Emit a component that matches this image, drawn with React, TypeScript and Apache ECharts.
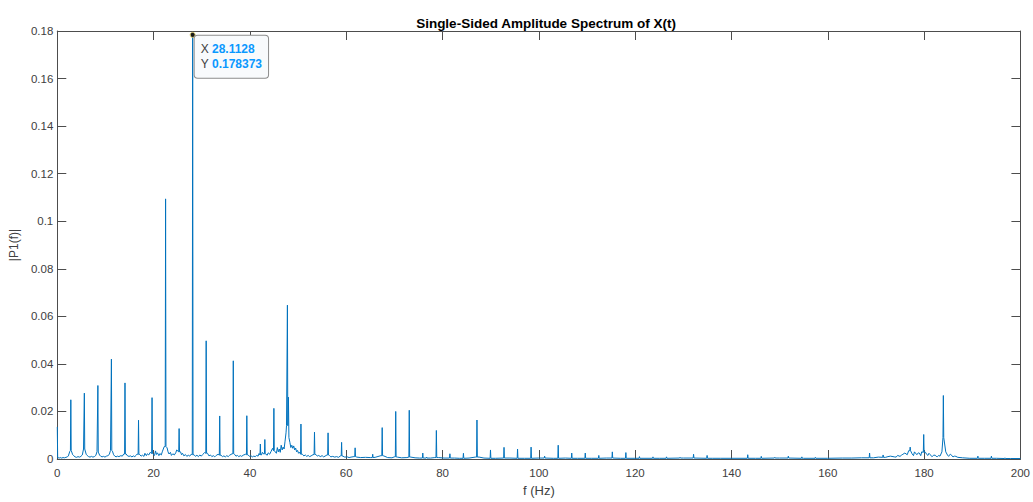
import React, { useEffect, useRef } from "react";
import * as echarts from "echarts";

const titleText = "Single-Sided Amplitude Spectrum of X(t)";
const xName = "f (Hz)";
const yName = "|P1(f)|";

// Spectral peaks (Hz, amplitude)
const peakFreqs = [
  0, 2.81, 5.62, 8.43, 11.24, 14.06, 16.87, 19.68, 22.49, 25.3, 28.1128, 30.92, 33.73, 36.55, 39.36,
  42.17, 43.1, 44.98, 47.79, 50.6, 53.41, 56.23, 59.04, 61.85, 65.5, 67.47, 70.28, 73.09, 75.9, 76.7,
  78.72, 81.53, 84.34, 87.15, 89.96, 92.77, 95.58, 98.39, 101.2, 104.02, 106.83, 109.64, 112.45,
  115.26, 118.07, 120.89, 123.7, 126.51, 129.32, 132.13, 134.94, 137.75, 143.38, 146.19, 149.0,
  151.81, 154.62, 157.43, 163.06, 168.68, 171.49, 177.11, 179.92, 184.0, 191.17, 193.98, 196.79,
];
const peakAmps = [
  0.0135, 0.0249, 0.0277, 0.0309, 0.042, 0.032, 0.0163, 0.0258, 0.1094, 0.0128, 0.178373, 0.0497, 0.0181,
  0.0413, 0.0182, 0.0063, 0.0082, 0.0213, 0.0647, 0.0147, 0.0113, 0.011, 0.007, 0.0047, 0.002, 0.0132,
  0.02, 0.0205, 0.0025, 0.0008, 0.012, 0.0022, 0.0024, 0.0164, 0.0038, 0.0049, 0.0042, 0.005, 0.0012,
  0.0058, 0.0025, 0.0025, 0.0015, 0.003, 0.0027, 0.001, 0.0009, 0.0009, 0.0007, 0.002, 0.0015, 0.0005,
  0.0018, 0.0011, 0.0007, 0.0012, 0.0009, 0.0007, 0.0003, 0.0025, 0.0017, 0.005, 0.0103, 0.0267, 0.0012,
  0.0012, 0.0005,
];

// Noise floor between the peaks, 0–15 Hz: [Hz, amplitude]
const floorLow: [number, number][] = [
  [0.15, 0.0006], [0.4, 0.0004], [0.6, 0.0006], [0.9, 0.0004], [1.2, 0.0006], [1.5, 0.0005],
  [1.8, 0.0007], [2.1, 0.0009], [2.3, 0.0013], [2.6, 0.0032], [3.0, 0.0036], [3.2, 0.0018],
  [3.4, 0.0014], [3.7, 0.0009], [4.0, 0.0007], [4.3, 0.001], [4.6, 0.0008], [4.9, 0.0011],
  [5.2, 0.0017], [5.45, 0.0042], [5.8, 0.004], [6.0, 0.002], [6.2, 0.0015], [6.5, 0.001],
  [6.8, 0.0008], [7.1, 0.0011], [7.4, 0.0008], [7.7, 0.001], [8.0, 0.0015], [8.25, 0.0031],
  [8.6, 0.0029], [8.8, 0.0016], [9.0, 0.0012], [9.3, 0.0009], [9.6, 0.0011], [9.9, 0.0008],
  [10.2, 0.0012], [10.5, 0.0014], [10.8, 0.0019], [11.05, 0.0036], [11.45, 0.0033], [11.7, 0.0018],
  [11.9, 0.0013], [12.2, 0.0009], [12.5, 0.0012], [12.8, 0.001], [13.2, 0.0014], [13.5, 0.0012],
  [13.8, 0.0021], [14.3, 0.0021], [14.6, 0.0013], [14.9, 0.0011], [15.2, 0.0013],
];

// Noise floor, 15–62 Hz
const floorMid: [number, number][] = [
  [15.5, 0.0009], [15.8, 0.0013], [16.1, 0.001], [16.4, 0.0016], [16.6, 0.0021], [17.1, 0.0019],
  [17.4, 0.0012], [17.7, 0.0016], [18.0, 0.0011], [18.2, 0.0024], [18.5, 0.0014], [18.7, 0.0022],
  [19.0, 0.0017], [19.3, 0.0028], [19.9, 0.0023], [20.2, 0.0015], [20.4, 0.0034], [20.6, 0.0019],
  [20.8, 0.0026], [21.1, 0.0014], [21.3, 0.0023], [21.6, 0.0017], [21.8, 0.003], [22.2, 0.0052],
  [22.8, 0.0047], [23.0, 0.003], [23.2, 0.0021], [23.5, 0.0028], [23.7, 0.0015], [24.0, 0.0022],
  [24.3, 0.0017], [24.6, 0.0026], [24.8, 0.0038], [25.6, 0.003], [25.8, 0.0018], [26.0, 0.0024],
  [26.3, 0.0013], [26.6, 0.0019], [26.9, 0.0011], [27.2, 0.0016], [27.5, 0.0012], [27.8, 0.002],
  [28.4, 0.0018], [28.7, 0.0011], [29.0, 0.0016], [29.3, 0.001], [29.6, 0.0017], [29.9, 0.0012],
  [30.2, 0.0019], [30.6, 0.0027], [31.2, 0.0024], [31.5, 0.0013], [31.8, 0.0017], [32.1, 0.001],
  [32.4, 0.0014], [32.7, 0.0009], [33.0, 0.0015], [33.4, 0.002], [34.0, 0.0016], [34.3, 0.001],
  [34.6, 0.0013], [34.9, 0.0009], [35.2, 0.0014], [35.5, 0.001], [35.8, 0.0016], [36.3, 0.0022],
  [36.8, 0.002], [37.1, 0.0012], [37.4, 0.0015], [37.7, 0.001], [38.0, 0.0014], [38.3, 0.0011],
  [38.6, 0.0016], [39.1, 0.002], [39.6, 0.0018], [39.9, 0.0011], [40.2, 0.0014], [40.5, 0.0009],
  [40.8, 0.0012], [41.1, 0.001], [41.4, 0.0015], [41.7, 0.0012], [41.9, 0.0023], [42.4, 0.0017],
  [42.6, 0.0028], [42.9, 0.002], [43.3, 0.0022], [43.6, 0.0016], [43.8, 0.0026], [44.1, 0.002],
  [44.4, 0.0032], [44.7, 0.0045], [45.2, 0.0035], [45.5, 0.0024], [45.7, 0.0048], [45.9, 0.003],
  [46.1, 0.0042], [46.3, 0.0028], [46.5, 0.0058], [46.7, 0.0038], [46.9, 0.005], [47.1, 0.0042],
  [47.3, 0.0075], [47.5, 0.011], [47.6, 0.014], [48.0, 0.026], [48.1, 0.009], [48.3, 0.007],
  [48.5, 0.0048], [48.7, 0.0058], [48.9, 0.0045], [49.1, 0.0055], [49.3, 0.0038], [49.5, 0.0046],
  [49.7, 0.003], [49.9, 0.0036], [50.1, 0.0024], [50.3, 0.0029], [50.9, 0.002], [51.2, 0.0013],
  [51.5, 0.0017], [51.8, 0.0011], [52.1, 0.0015], [52.4, 0.001], [52.7, 0.0013], [53.1, 0.0018],
  [53.7, 0.0019], [54.0, 0.0012], [54.3, 0.0015], [54.6, 0.001], [55.0, 0.0014], [55.3, 0.0009],
  [55.6, 0.0012], [56.0, 0.0017], [56.5, 0.0015], [56.8, 0.0009], [57.2, 0.0011], [57.6, 0.0008],
  [58.0, 0.001], [58.4, 0.0007], [58.8, 0.0013], [59.3, 0.0012], [59.7, 0.0008], [60.2, 0.0009],
  [60.6, 0.0006], [61.0, 0.0008], [61.6, 0.001],
];

// Noise floor, 62–200 Hz
const floorHigh: [number, number][] = [
  [62.2, 0.0008], [63.0, 0.0006], [64.0, 0.0007], [65.0, 0.0006], [66.0, 0.0007], [67.2, 0.0014],
  [67.8, 0.0013], [68.6, 0.0006], [69.5, 0.0005], [70.0, 0.0009], [70.6, 0.0008], [71.5, 0.0005],
  [72.6, 0.0006], [73.4, 0.0008], [74.3, 0.0005], [75.2, 0.0004], [77.5, 0.0004], [78.4, 0.0006],
  [79.2, 0.0006], [80.3, 0.0004], [82.5, 0.0004], [83.5, 0.0003], [85.5, 0.0004], [86.8, 0.0008],
  [87.6, 0.0008], [88.6, 0.0004], [91, 0.0003], [94, 0.0004], [97, 0.0003], [100, 0.0004],
  [103, 0.0003], [105.5, 0.0004], [108, 0.0003], [111, 0.0003], [114, 0.0004], [117, 0.0003],
  [120, 0.0003], [125, 0.0003], [130, 0.0004], [136, 0.0003], [140, 0.0003], [145, 0.0003],
  [150, 0.0004], [155, 0.0003], [160, 0.0003], [165, 0.0004], [167, 0.0005], [169.5, 0.0005],
  [170.5, 0.0008], [172.0, 0.0007], [172.5, 0.001], [173.0, 0.0012], [173.8, 0.0009], [174.2, 0.0008],
  [174.5, 0.0015], [175.0, 0.0011], [175.3, 0.0016], [175.6, 0.002], [176.0, 0.0025], [176.5, 0.0018],
  [176.8, 0.0035], [177.5, 0.0022], [177.8, 0.0014], [178.0, 0.003], [178.5, 0.0018], [178.8, 0.0026],
  [179.0, 0.0025], [179.3, 0.0014], [179.5, 0.003], [180.3, 0.0028], [180.5, 0.002], [180.8, 0.0015],
  [181.0, 0.0024], [181.3, 0.0018], [181.6, 0.001], [181.8, 0.0012], [182.0, 0.0016], [182.3, 0.0016],
  [182.5, 0.0011], [182.8, 0.001], [183.0, 0.0015], [183.3, 0.0012], [183.7, 0.003], [184.2, 0.009],
  [184.5, 0.003], [184.9, 0.0015], [185.1, 0.0011], [185.3, 0.0018], [185.5, 0.002], [185.8, 0.0013],
  [186.0, 0.0009], [186.3, 0.0012], [186.6, 0.0011], [187, 0.0007], [188, 0.0005], [189.5, 0.0003],
  [192.5, 0.0003], [195, 0.0003], [198, 0.0002], [200, 0.0002],
];

const xTickValues = [0, 20, 40, 60, 80, 100, 120, 140, 160, 180, 200];
const yTickValues = [0, 0.02, 0.04, 0.06, 0.08, 0.1, 0.12, 0.14, 0.16, 0.18];

const tipX = 28.1128;
const tipY = 0.178373;

const floorPoints: [number, number][] = [...floorLow, ...floorMid, ...floorHigh];

function nearestFloor(f: number): number {
  let best = 0;
  let bd = Infinity;
  for (const [ff, v] of floorPoints) {
    const d = Math.abs(ff - f);
    if (d < bd) {
      bd = d;
      best = v;
    }
  }
  return best;
}

function buildData(): [number, number][] {
  const pts: [number, number][] = floorPoints.map((p) => [p[0], p[1]] as [number, number]);
  for (let i = 0; i < peakFreqs.length; i++) {
    const f = peakFreqs[i];
    pts.push([f, peakAmps[i]]);
    const base = nearestFloor(f);
    if (f > 0.1) pts.push([f - 0.08, base]);
    pts.push([f + 0.08, base]);
  }
  pts.sort((a, b) => a[0] - b[0]);
  return pts;
}

const axisColor = "#4d4d4d";
const labelColor = "#404040";
const fontFamily = "'Liberation Sans', Arial, Helvetica, sans-serif";

export default function App() {
  const ref = useRef<HTMLDivElement>(null);
  useEffect(() => {
    if (!ref.current) return;
    const chart = echarts.init(ref.current, undefined, { renderer: "svg" });
    const axisCommon = {
      axisLine: { show: true, onZero: false, lineStyle: { color: axisColor, width: 1 } },
      axisTick: { show: true, inside: true, length: 9, lineStyle: { color: axisColor, width: 1 } },
      splitLine: { show: false },
    };
    const fmtY = (v: number) => {
      const idx = yTickValues.findIndex((t) => Math.abs(t - v) < 1e-9);
      return idx >= 0 ? String(yTickValues[idx]) : "";
    };
    const fmtX = (v: number) => {
      const idx = xTickValues.findIndex((t) => Math.abs(t - v) < 1e-9);
      return idx >= 0 ? String(xTickValues[idx]) : "";
    };
    chart.setOption({
      animation: false,
      backgroundColor: "#ffffff",
      textStyle: { fontFamily },
      title: {
        text: titleText,
        left: 541,
        top: 11,
        textAlign: "center",
        textStyle: { fontSize: 13.5, fontWeight: "bold", color: "#000000", fontFamily },
      },
      grid: { left: 57, right: 8, top: 31, bottom: 38, containLabel: false },
      xAxis: [
        {
          type: "value",
          min: 0,
          max: 200,
          interval: 20,
          position: "bottom",
          name: xName,
          nameLocation: "middle",
          nameGap: 25,
          nameTextStyle: { fontSize: 13, color: labelColor, fontFamily },
          axisLabel: { fontSize: 11.5, color: labelColor, margin: 8, formatter: fmtX, fontFamily },
          ...axisCommon,
        },
        {
          type: "value",
          min: 0,
          max: 200,
          interval: 20,
          position: "top",
          axisLabel: { show: false },
          ...axisCommon,
        },
      ],
      yAxis: [
        {
          type: "value",
          min: 0,
          max: 0.18,
          interval: 0.02,
          position: "left",
          name: yName,
          nameLocation: "middle",
          nameGap: 31,
          nameRotate: 90,
          nameTextStyle: { fontSize: 12, color: labelColor, fontFamily },
          axisLabel: { fontSize: 11.5, color: labelColor, margin: 4, formatter: fmtY, fontFamily },
          ...axisCommon,
        },
        {
          type: "value",
          min: 0,
          max: 0.18,
          interval: 0.02,
          position: "right",
          axisLabel: { show: false },
          ...axisCommon,
        },
      ],
      series: [
        {
          type: "line",
          data: buildData(),
          xAxisIndex: 0,
          yAxisIndex: 0,
          showSymbol: false,
          symbol: "none",
          clip: true,
          lineStyle: { color: "#0072BD", width: 1 },
          markPoint: {
            symbol: "circle",
            symbolSize: 5,
            silent: true,
            itemStyle: { color: "#1a1a1a", borderColor: "#d9c96a", borderWidth: 1 },
            label: {
              show: true,
              position: [5, 4],
              align: "left",
              verticalAlign: "top",
              backgroundColor: "#f8fafc",
              borderColor: "#8c8c8c",
              borderWidth: 1,
              borderRadius: 3,
              padding: [6, 6, 6, 6],
              lineHeight: 15,
              formatter: () => `{k|X} {v|${tipX}}\n{k|Y} {v|${tipY}}`,
              rich: {
                k: { fontSize: 12, color: "#404040", fontFamily, lineHeight: 15 },
                v: { fontSize: 12, color: "#0a98ff", fontWeight: "bold", fontFamily, lineHeight: 15 },
              },
            },
            data: [{ coord: [tipX, tipY] }],
          },
        },
      ],
    });
    return () => chart.dispose();
  }, []);
  return (
    <div
      ref={ref}
      style={{ position: "fixed", left: 0, top: 0, width: 1033, height: 502, background: "#fff" }}
    />
  );
}
